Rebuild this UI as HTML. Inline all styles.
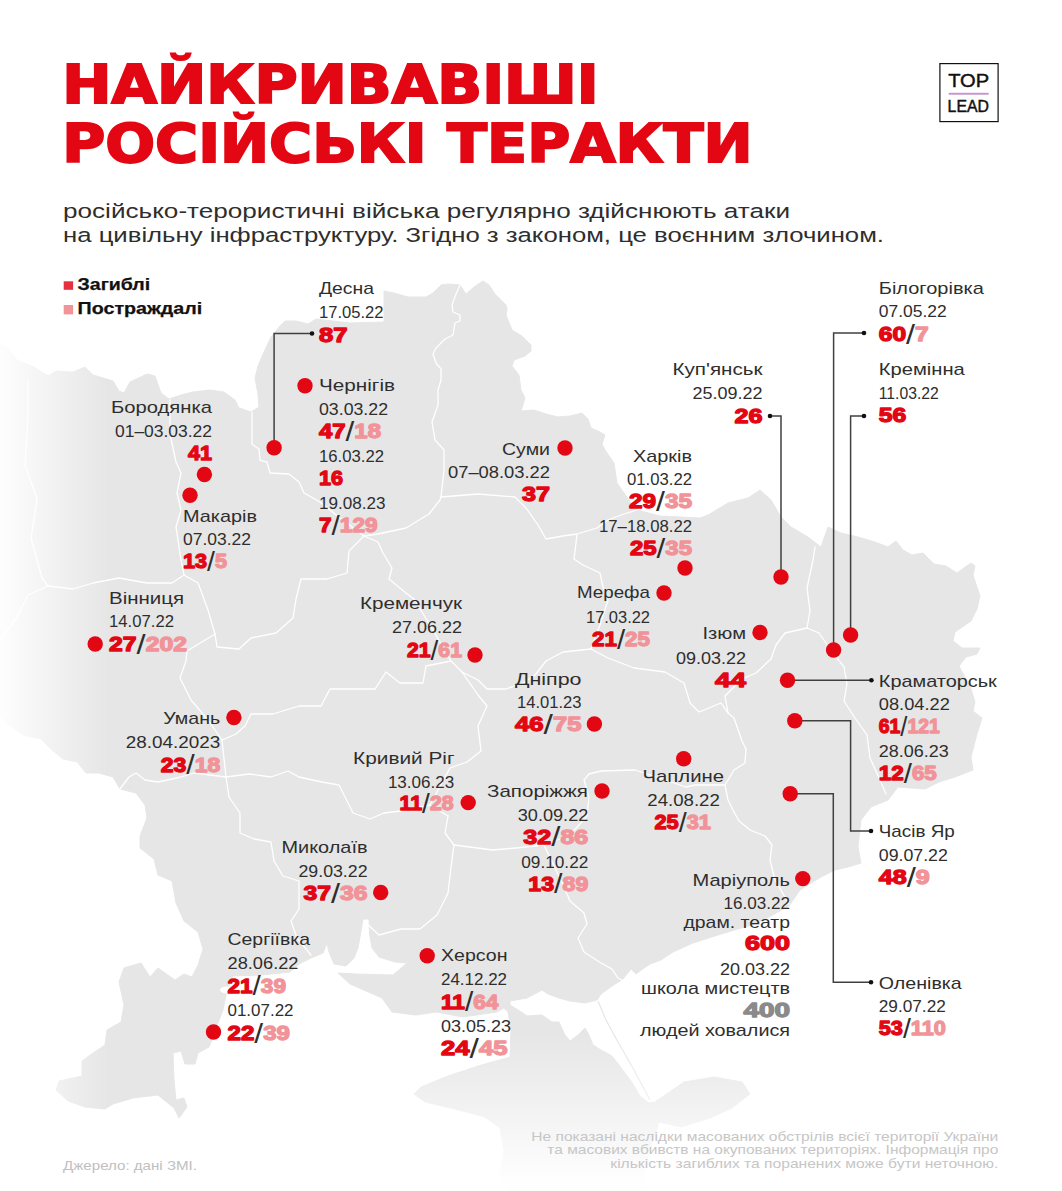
<!DOCTYPE html>
<html lang="uk"><head><meta charset="utf-8"><title>Найкривавіші російські теракти</title>
<style>
html,body{margin:0;padding:0;background:#fff;}
body{width:1062px;height:1191px;overflow:hidden;position:relative;font-family:'Liberation Sans', 'DejaVu Sans', sans-serif;}
svg{position:absolute;left:0;top:0;display:block}
text{font-family:'Liberation Sans', 'DejaVu Sans', sans-serif;}
.r{font-weight:400;}
.n{font-weight:700;}
</style></head><body>
<svg width="1062" height="1191" viewBox="0 0 1062 1191">
<defs>
<linearGradient id="gl" x1="0" y1="0" x2="108" y2="0" gradientUnits="userSpaceOnUse">
<stop offset="0" stop-color="#fff" stop-opacity="0.06"/><stop offset="1" stop-color="#fff" stop-opacity="1"/></linearGradient>
<linearGradient id="gb" x1="0" y1="1035" x2="0" y2="1180" gradientUnits="userSpaceOnUse">
<stop offset="0" stop-color="#fff" stop-opacity="1"/><stop offset="1" stop-color="#fff" stop-opacity="0.04"/></linearGradient>
<mask id="ml" maskUnits="userSpaceOnUse" x="0" y="0" width="1062" height="1191"><rect width="1062" height="1191" fill="url(#gl)"/></mask>
<mask id="mb" maskUnits="userSpaceOnUse" x="0" y="0" width="1062" height="1191"><rect width="1062" height="1191" fill="url(#gb)"/><rect width="395" height="1191" fill="#fff"/></mask>
</defs>

<g mask="url(#ml)"><g mask="url(#mb)">
<path d="M0,345 L8,348 L17,360 L34,367 L48,376 L56,371 L73,372 L85,367 L93,375 L113,381 L119,391 L124,393 L130,382 L147,374 L155,376 L161,393 L169,399 L181,395 L193,392 L210,390 L224,392 L235,400 L239,408 L251,412 L259,407 L258,394 L255,378 L258,366 L263,354 L271,337 L280,326 L285,321 L296,321 L308,324 L316,319 L350,323 L384,322 L384,291 L394,293 L408,297 L426,297 L433,293 L441,285 L448,284 L460,285 L466,294 L474,287 L483,281 L489,285 L495,294 L506,305 L507,309 L506,315 L512,330 L522,336 L531,345 L531,351 L525,356 L514,360 L512,366 L519,375 L521,390 L525,398 L521,411 L534,410 L546,414 L558,417 L570,416 L582,413 L588,419 L591,428 L600,432 L605,435 L602,444 L605,450 L614,463 L617,483 L631,503 L637,510 L660,516 L700,518 L708,515 L728,503 L748,498 L760,490 L771,500 L781,517 L791,527 L808,537 L821,547 L828,527 L841,533 L858,537 L875,542 L888,547 L896,541 L903,550 L912,555 L923,553 L934,564 L946,566 L957,573 L971,563 L975,566 L973,575 L980,596 L977,609 L971,621 L955,632 L953,641 L962,648 L980,648 L977,654 L966,657 L959,666 L971,689 L975,702 L973,711 L982,718 L977,734 L971,757 L973,770 L955,777 L939,782 L925,789 L898,787 L888,800 L871,807 L861,820 L858,847 L861,863 L848,867 L835,870 L821,877 L811,883 L800,890 L789,906 L758,923 L718,935 L693,943 L673,952 L661,960 L650,964 L644,968 L636,974 L631,969 L623,979 L612,986 L601,994 L597,1000 L585,1003 L570,1001 L559,998 L548,994 L542,990 L527,998 L510,1001 L510,1005 L523,1013 L527,1016 L542,1015 L552,1022 L559,1022 L565,1035 L570,1041 L578,1035 L585,1028 L589,1035 L593,1045 L601,1050 L612,1056 L619,1065 L631,1081 L640,1096 L649,1103 L655,1102 L684,1082 L714,1077 L742,1082 L750,1094 L732,1108 L710,1118 L681,1127 L659,1122 L650,1150 L640,1191 L508,1191 L500,1173 L504,1151 L500,1128 L485,1117 L455,1109 L425,1102 L414,1094 L421,1087 L448,1076 L478,1066 L510,1057 L511,1030 L508,1012 L504,1008 L497,1012 L463,1017 L436,1012 L416,1015 L392,1012 L382,998 L350,984 L338,973 L356,974 L393,975 L407,963 L395,962 L379,957 L372,948 L369.5,934 L369,919 L363,919 L360.5,934 L358,948 L354,958 L346,966 L334,964 L329,952 L327,943 L323,953 L311,958 L299,964 L290,972 L262,975 L233,976 L227,990 L223,1010 L216,1028 L212,1040 L209,1047 L198,1053 L195,1064 L185,1064 L181,1051 L173,1053 L174,1080 L176,1100 L184,1098 L187,1107 L179,1118 L174,1108 L158,1095 L133,1098 L113,1104 L105,1109 L85,1107 L68,1101 L56,1090 L59,1081 L82,1076 L82,1061 L93,1053 L105,1045 L107,1030 L121,1022 L124,1005 L119,982 L124,968 L141,963 L150,977 L158,968 L175,980 L184,974 L192,977 L198,965 L203,949 L198,932 L184,921 L176,903 L172,881 L158,875 L154,859 L140,848 L140,836 L147,818 L145,805 L136,793 L120,789 L113,777 L99,773 L86,773 L77,762 L63,759 L52,750 L41,739 L23,735 L9,725 L0,716 Z" fill="#e6e6e6" stroke="#e6e6e6" stroke-width="1" stroke-linejoin="round"/>
<path d="M460,285 L456,294 L452,305 L453,312 L460,315 L460,321 L455,323 L453,335 L445,339 L436,348 L433,354 L436,363 L441,369 L441,380 L438,390 L438,405 L432,422 L435,440 L444,450 L444,470 L441,497" fill="none" stroke="#fff" stroke-width="1.3" stroke-linejoin="round" stroke-linecap="round"/>
<path d="M252,412 L252,444 L259,449 L260,460 L267,462 L270,473 L289,474 L299,482 L304,493 L320,502 L340,518 L364,536" fill="none" stroke="#fff" stroke-width="1.3" stroke-linejoin="round" stroke-linecap="round"/>
<path d="M441,497 L440,500 L429,514 L406,528 L378,534 L364,536" fill="none" stroke="#fff" stroke-width="1.3" stroke-linejoin="round" stroke-linecap="round"/>
<path d="M441,497 L478,494 L515,497 L526,508 L538,525 L546,539 L563,536 L577,534 L597,528 L608,520 L621,515 L637,510" fill="none" stroke="#fff" stroke-width="1.3" stroke-linejoin="round" stroke-linecap="round"/>
<path d="M577,535 L574,559 L583,565 L600,573 L603,587 L608,600 L600,625 L591,649" fill="none" stroke="#fff" stroke-width="1.3" stroke-linejoin="round" stroke-linecap="round"/>
<path d="M591,649 L608,658 L634,668 L665,672 L684,683 L690,703 L699,712 L721,703 L728,713" fill="none" stroke="#fff" stroke-width="1.3" stroke-linejoin="round" stroke-linecap="round"/>
<path d="M591,649 L563,652 L546,661 L535,675 L523,683 L506,689 L487,689 L478,680 L462,672" fill="none" stroke="#fff" stroke-width="1.3" stroke-linejoin="round" stroke-linecap="round"/>
<path d="M815,547 L813,560 L807,588 L810,611 L807,628 L819,633" fill="none" stroke="#fff" stroke-width="1.3" stroke-linejoin="round" stroke-linecap="round"/>
<path d="M819,633 L833,653 L844,667 L847,684 L844,701 L855,718 L867,735 L870,758 L880,780 L886,794" fill="none" stroke="#fff" stroke-width="1.3" stroke-linejoin="round" stroke-linecap="round"/>
<path d="M807,628 L785,633 L776,645 L771,659 L756,673 L742,679 L725,696 L728,713" fill="none" stroke="#fff" stroke-width="1.3" stroke-linejoin="round" stroke-linecap="round"/>
<path d="M728,713 L734,718 L742,741 L746,749" fill="none" stroke="#fff" stroke-width="1.3" stroke-linejoin="round" stroke-linecap="round"/>
<path d="M725,785 L728,800 L734,812 L739,821 L750,830 L765,836 L772,845 L770,860 L775,880 L789,904" fill="none" stroke="#fff" stroke-width="1.3" stroke-linejoin="round" stroke-linecap="round"/>
<path d="M746,749 L745,763 L734,770 L725,785 L695,785 L686,787 L650,775 L635,770 L601,771 L589,774 L584,780 L589,797 L587,816 L570,835 L544,845" fill="none" stroke="#fff" stroke-width="1.3" stroke-linejoin="round" stroke-linecap="round"/>
<path d="M170,400 L170,434 L176,462 L181,473 L177,493 L181,510 L176,527 L181,560 L184,575" fill="none" stroke="#fff" stroke-width="1.3" stroke-linejoin="round" stroke-linecap="round"/>
<path d="M184,575 L172,583 L147,583 L119,578 L93,583 L73,589 L48,586 L28,595 L17,617 L0,640" fill="none" stroke="#fff" stroke-width="1.3" stroke-linejoin="round" stroke-linecap="round"/>
<path d="M28,380 L28,417 L25,465 L37,499 L31,538 L42,578 L48,586" fill="none" stroke="#fff" stroke-width="1.3" stroke-linejoin="round" stroke-linecap="round"/>
<path d="M184,575 L198,583 L208,610 L215,634 L187,651 L186,661 L180,678 L191,700 L208,720 L222,740" fill="none" stroke="#fff" stroke-width="1.3" stroke-linejoin="round" stroke-linecap="round"/>
<path d="M364,536 L349,551 L347,573 L327,579 L301,579 L296,599 L293,618 L276,633 L251,638 L239,649 L217,647 L215,634" fill="none" stroke="#fff" stroke-width="1.3" stroke-linejoin="round" stroke-linecap="round"/>
<path d="M364,536 L378,542 L383,553 L392,568 L389,579 L406,593 L414,599 L430,625 L451,661 L462,672 L478,695 L487,706 L478,726 L481,751 L467,762 L450,768 L430,805" fill="none" stroke="#fff" stroke-width="1.3" stroke-linejoin="round" stroke-linecap="round"/>
<path d="M451,661 L426,666 L423,683 L400,683 L386,672 L375,689 L349,689 L330,689 L321,706 L299,706 L273,714 L251,714 L245,726 L236,734 L222,740" fill="none" stroke="#fff" stroke-width="1.3" stroke-linejoin="round" stroke-linecap="round"/>
<path d="M222,740 L226,777 L194,773 L181,777 L158,782 L145,780 L136,773 L129,777 L120,789" fill="none" stroke="#fff" stroke-width="1.3" stroke-linejoin="round" stroke-linecap="round"/>
<path d="M226,777 L229,797 L240,813 L240,833 L254,839 L271,842 L274,861 L283,876 L299,881 L299,909 L291,921 L297,938 L311,955" fill="none" stroke="#fff" stroke-width="1.3" stroke-linejoin="round" stroke-linecap="round"/>
<path d="M226,777 L249,774 L271,777 L288,771 L299,777 L322,782 L339,785 L345,797 L353,813 L370,819 L384,813 L401,811 L430,805 L448,816" fill="none" stroke="#fff" stroke-width="1.3" stroke-linejoin="round" stroke-linecap="round"/>
<path d="M364,921 L379,935 L401,929 L420,929 L437,915 L448,893 L451,867 L454,845 L445,833 L448,816" fill="none" stroke="#fff" stroke-width="1.3" stroke-linejoin="round" stroke-linecap="round"/>
<path d="M454,845 L493,850 L516,848 L544,845" fill="none" stroke="#fff" stroke-width="1.3" stroke-linejoin="round" stroke-linecap="round"/>
<path d="M544,845 L556,870 L564,887 L570,901 L584,913 L587,924 L578,938 L584,952 L601,963 L612,969 L618,978 L628,983" fill="none" stroke="#fff" stroke-width="1.3" stroke-linejoin="round" stroke-linecap="round"/>
<path d="M598,1001 L606,1020 L618,1042 L634,1070 L650,1100" fill="none" stroke="#e6e6e6" stroke-width="1.2"/>
<ellipse cx="227" cy="990" rx="7" ry="3.5" fill="#fff"/>
</g></g>
<text x="62.2" y="103" font-size="52.6" class="n" textLength="536.5" lengthAdjust="spacingAndGlyphs" fill="#e30613" stroke="#e30613" stroke-width="2" stroke-linejoin="miter" style="font-family:'DejaVu Sans','Liberation Sans',sans-serif">НАЙКРИВАВІШІ</text>
<text x="62.2" y="161.8" font-size="52.6" class="n" textLength="690.5" lengthAdjust="spacingAndGlyphs" fill="#e30613" stroke="#e30613" stroke-width="2" stroke-linejoin="miter" style="font-family:'DejaVu Sans','Liberation Sans',sans-serif">РОСІЙСЬКІ ТЕРАКТИ</text>
<text x="63" y="217.6" font-size="20.5" class="r" textLength="727" lengthAdjust="spacingAndGlyphs" fill="#2e2e2e">російсько-терористичні війська регулярно здійснюють атаки</text>
<text x="63" y="241.6" font-size="20.5" class="r" textLength="821" lengthAdjust="spacingAndGlyphs" fill="#2e2e2e">на цивільну інфраструктуру. Згідно з законом, це воєнним злочином.</text>
<rect x="939.9" y="63.6" width="58.2" height="58" fill="#fff" stroke="#111" stroke-width="1.2"/>
<text x="948.2" y="86.7" font-size="19" class="r" textLength="41" lengthAdjust="spacingAndGlyphs" fill="#111" stroke="#111" stroke-width="0.45">TOP</text>
<rect x="948.7" y="92.8" width="40" height="1.9" fill="#c990d2"/>
<text x="947.6" y="112.1" font-size="15.6" class="r" textLength="41.3" lengthAdjust="spacingAndGlyphs" fill="#111" stroke="#111" stroke-width="0.45">LEAD</text>
<rect x="63.7" y="281.3" width="9.4" height="8.5" fill="#e8313f"/>
<rect x="63.7" y="305" width="9.4" height="9.4" fill="#f19398"/>
<text x="77.6" y="290" font-size="16.3" class="n" textLength="72.6" lengthAdjust="spacingAndGlyphs" fill="#111" stroke="#111" stroke-width="0.25">Загиблі</text>
<text x="77.6" y="314.1" font-size="16.3" class="n" textLength="124.6" lengthAdjust="spacingAndGlyphs" fill="#111" stroke="#111" stroke-width="0.25">Постраждалі</text>
<path d="M312,333.5 L274.1,333.5 L274.1,447" fill="none" stroke="#404040" stroke-width="1.5"/>
<circle cx="312" cy="333.5" r="2.3" fill="#111"/>
<path d="M770,416 L781,416 L781,577" fill="none" stroke="#404040" stroke-width="1.5"/>
<circle cx="770" cy="416" r="2.3" fill="#111"/>
<path d="M864,333 L833.6,333 L833.6,649" fill="none" stroke="#404040" stroke-width="1.5"/>
<circle cx="864" cy="333" r="2.3" fill="#111"/>
<path d="M864,416 L850.6,416 L850.6,635" fill="none" stroke="#404040" stroke-width="1.5"/>
<circle cx="864" cy="416" r="2.3" fill="#111"/>
<path d="M787.5,680.3 L871.4,680.3" fill="none" stroke="#404040" stroke-width="1.5"/>
<circle cx="871.4" cy="680.3" r="2.3" fill="#111"/>
<path d="M795,720.8 L850.6,720.8 L850.6,831 L871,831" fill="none" stroke="#404040" stroke-width="1.5"/>
<circle cx="871" cy="831" r="2.3" fill="#111"/>
<path d="M790.2,793.7 L833.3,793.7 L833.3,982.3 L871,982.3" fill="none" stroke="#404040" stroke-width="1.5"/>
<circle cx="871" cy="982.3" r="2.3" fill="#111"/>
<circle cx="274.1" cy="447.8" r="7.7" fill="#e30613"/>
<circle cx="305" cy="385.8" r="7.7" fill="#e30613"/>
<circle cx="204.4" cy="474.5" r="7.7" fill="#e30613"/>
<circle cx="190" cy="495.2" r="7.7" fill="#e30613"/>
<circle cx="95.2" cy="644" r="7.7" fill="#e30613"/>
<circle cx="233.9" cy="717.5" r="7.7" fill="#e30613"/>
<circle cx="565" cy="448" r="7.7" fill="#e30613"/>
<circle cx="685" cy="568" r="7.7" fill="#e30613"/>
<circle cx="664" cy="593" r="7.7" fill="#e30613"/>
<circle cx="475" cy="655" r="7.7" fill="#e30613"/>
<circle cx="594.4" cy="724" r="7.7" fill="#e30613"/>
<circle cx="468.2" cy="802.6" r="7.7" fill="#e30613"/>
<circle cx="602" cy="791" r="7.7" fill="#e30613"/>
<circle cx="683.7" cy="758.8" r="7.7" fill="#e30613"/>
<circle cx="380.7" cy="892.5" r="7.7" fill="#e30613"/>
<circle cx="427.2" cy="955.7" r="7.7" fill="#e30613"/>
<circle cx="213.5" cy="1032" r="7.7" fill="#e30613"/>
<circle cx="781" cy="577" r="7.7" fill="#e30613"/>
<circle cx="760" cy="632.5" r="7.7" fill="#e30613"/>
<circle cx="850.6" cy="635" r="7.7" fill="#e30613"/>
<circle cx="833.6" cy="650" r="7.7" fill="#e30613"/>
<circle cx="787.5" cy="680.3" r="7.7" fill="#e30613"/>
<circle cx="794.8" cy="720.8" r="7.7" fill="#e30613"/>
<circle cx="790.2" cy="793.7" r="7.7" fill="#e30613"/>
<circle cx="802.8" cy="878.6" r="7.7" fill="#e30613"/>
<text x="319" y="294" font-size="17" class="r" textLength="55" lengthAdjust="spacingAndGlyphs" fill="#2e2e2e">Десна</text>
<text x="319" y="317.5" font-size="17" class="r" textLength="64.5" lengthAdjust="spacingAndGlyphs" fill="#2e2e2e">17.05.22</text>
<text x="319" y="342" font-size="20.5" class="n" stroke-width="1.3" stroke-linejoin="round" textLength="28.5" lengthAdjust="spacingAndGlyphs"><tspan fill="#e30613" stroke="#e30613">87</tspan></text>
<text x="319" y="391" font-size="17" class="r" textLength="76" lengthAdjust="spacingAndGlyphs" fill="#2e2e2e">Чернігів</text>
<text x="319" y="414.5" font-size="17" class="r" textLength="69" lengthAdjust="spacingAndGlyphs" fill="#2e2e2e">03.03.22</text>
<text x="319" y="438" font-size="20.5" class="n" stroke-width="1.3" stroke-linejoin="round" textLength="62" lengthAdjust="spacingAndGlyphs"><tspan fill="#e30613" stroke="#e30613">47</tspan><tspan fill="#2e2e2e" stroke="none" font-weight="400" font-size="27" dy="2.5">/</tspan><tspan fill="#f19398" stroke="#f19398" dy="-2.5">18</tspan></text>
<text x="319" y="461.5" font-size="17" class="r" textLength="65" lengthAdjust="spacingAndGlyphs" fill="#2e2e2e">16.03.22</text>
<text x="319" y="485" font-size="20.5" class="n" stroke-width="1.3" stroke-linejoin="round" textLength="24" lengthAdjust="spacingAndGlyphs"><tspan fill="#e30613" stroke="#e30613">16</tspan></text>
<text x="319" y="508.5" font-size="17" class="r" textLength="66.5" lengthAdjust="spacingAndGlyphs" fill="#2e2e2e">19.08.23</text>
<text x="319" y="532" font-size="20.5" class="n" stroke-width="1.3" stroke-linejoin="round" textLength="58.5" lengthAdjust="spacingAndGlyphs"><tspan fill="#e30613" stroke="#e30613">7</tspan><tspan fill="#2e2e2e" stroke="none" font-weight="400" font-size="27" dy="2.5">/</tspan><tspan fill="#f19398" stroke="#f19398" dy="-2.5">129</tspan></text>
<text x="212" y="413" font-size="17" class="r" text-anchor="end" textLength="101" lengthAdjust="spacingAndGlyphs" fill="#2e2e2e">Бородянка</text>
<text x="212" y="437" font-size="17" class="r" text-anchor="end" textLength="97" lengthAdjust="spacingAndGlyphs" fill="#2e2e2e">01–03.03.22</text>
<text x="188" y="460" font-size="20.5" class="n" stroke-width="1.3" stroke-linejoin="round" textLength="24" lengthAdjust="spacingAndGlyphs"><tspan fill="#e30613" stroke="#e30613">41</tspan></text>
<text x="183" y="522" font-size="17" class="r" textLength="74" lengthAdjust="spacingAndGlyphs" fill="#2e2e2e">Макарів</text>
<text x="183" y="545" font-size="17" class="r" textLength="68" lengthAdjust="spacingAndGlyphs" fill="#2e2e2e">07.03.22</text>
<text x="183" y="568" font-size="20.5" class="n" stroke-width="1.3" stroke-linejoin="round" textLength="44" lengthAdjust="spacingAndGlyphs"><tspan fill="#e30613" stroke="#e30613">13</tspan><tspan fill="#2e2e2e" stroke="none" font-weight="400" font-size="27" dy="2.5">/</tspan><tspan fill="#f19398" stroke="#f19398" dy="-2.5">5</tspan></text>
<text x="109" y="604" font-size="17" class="r" textLength="75" lengthAdjust="spacingAndGlyphs" fill="#2e2e2e">Вінниця</text>
<text x="109" y="627" font-size="17" class="r" textLength="65" lengthAdjust="spacingAndGlyphs" fill="#2e2e2e">14.07.22</text>
<text x="109" y="651" font-size="20.5" class="n" stroke-width="1.3" stroke-linejoin="round" textLength="78" lengthAdjust="spacingAndGlyphs"><tspan fill="#e30613" stroke="#e30613">27</tspan><tspan fill="#2e2e2e" stroke="none" font-weight="400" font-size="27" dy="2.5">/</tspan><tspan fill="#f19398" stroke="#f19398" dy="-2.5">202</tspan></text>
<text x="220.3" y="724.4" font-size="17" class="r" text-anchor="end" textLength="57" lengthAdjust="spacingAndGlyphs" fill="#2e2e2e">Умань</text>
<text x="220.3" y="748" font-size="17" class="r" text-anchor="end" textLength="94.5" lengthAdjust="spacingAndGlyphs" fill="#2e2e2e">28.04.2023</text>
<text x="160.8" y="771.6" font-size="20.5" class="n" stroke-width="1.3" stroke-linejoin="round" textLength="59.5" lengthAdjust="spacingAndGlyphs"><tspan fill="#e30613" stroke="#e30613">23</tspan><tspan fill="#2e2e2e" stroke="none" font-weight="400" font-size="27" dy="2.5">/</tspan><tspan fill="#f19398" stroke="#f19398" dy="-2.5">18</tspan></text>
<text x="367.5" y="852.5" font-size="17" class="r" text-anchor="end" textLength="86" lengthAdjust="spacingAndGlyphs" fill="#2e2e2e">Миколаїв</text>
<text x="367.5" y="876.5" font-size="17" class="r" text-anchor="end" textLength="69" lengthAdjust="spacingAndGlyphs" fill="#2e2e2e">29.03.22</text>
<text x="303.5" y="900" font-size="20.5" class="n" stroke-width="1.3" stroke-linejoin="round" textLength="64" lengthAdjust="spacingAndGlyphs"><tspan fill="#e30613" stroke="#e30613">37</tspan><tspan fill="#2e2e2e" stroke="none" font-weight="400" font-size="27" dy="2.5">/</tspan><tspan fill="#f19398" stroke="#f19398" dy="-2.5">36</tspan></text>
<text x="227.5" y="945" font-size="17" class="r" textLength="82.5" lengthAdjust="spacingAndGlyphs" fill="#2e2e2e">Сергіївка</text>
<text x="227.5" y="969" font-size="17" class="r" textLength="71" lengthAdjust="spacingAndGlyphs" fill="#2e2e2e">28.06.22</text>
<text x="227.5" y="992.5" font-size="20.5" class="n" stroke-width="1.3" stroke-linejoin="round" textLength="58.5" lengthAdjust="spacingAndGlyphs"><tspan fill="#e30613" stroke="#e30613">21</tspan><tspan fill="#2e2e2e" stroke="none" font-weight="400" font-size="27" dy="2.5">/</tspan><tspan fill="#f19398" stroke="#f19398" dy="-2.5">39</tspan></text>
<text x="227.5" y="1016" font-size="17" class="r" textLength="66" lengthAdjust="spacingAndGlyphs" fill="#2e2e2e">01.07.22</text>
<text x="227.5" y="1040" font-size="20.5" class="n" stroke-width="1.3" stroke-linejoin="round" textLength="62.5" lengthAdjust="spacingAndGlyphs"><tspan fill="#e30613" stroke="#e30613">22</tspan><tspan fill="#2e2e2e" stroke="none" font-weight="400" font-size="27" dy="2.5">/</tspan><tspan fill="#f19398" stroke="#f19398" dy="-2.5">39</tspan></text>
<text x="441" y="960.5" font-size="17" class="r" textLength="66.5" lengthAdjust="spacingAndGlyphs" fill="#2e2e2e">Херсон</text>
<text x="441" y="985" font-size="17" class="r" textLength="66" lengthAdjust="spacingAndGlyphs" fill="#2e2e2e">24.12.22</text>
<text x="441" y="1008.5" font-size="20.5" class="n" stroke-width="1.3" stroke-linejoin="round" textLength="57.5" lengthAdjust="spacingAndGlyphs"><tspan fill="#e30613" stroke="#e30613">11</tspan><tspan fill="#2e2e2e" stroke="none" font-weight="400" font-size="27" dy="2.5">/</tspan><tspan fill="#f19398" stroke="#f19398" dy="-2.5">64</tspan></text>
<text x="441" y="1031.5" font-size="17" class="r" textLength="70" lengthAdjust="spacingAndGlyphs" fill="#2e2e2e">03.05.23</text>
<text x="441" y="1055" font-size="20.5" class="n" stroke-width="1.3" stroke-linejoin="round" textLength="66.5" lengthAdjust="spacingAndGlyphs"><tspan fill="#e30613" stroke="#e30613">24</tspan><tspan fill="#2e2e2e" stroke="none" font-weight="400" font-size="27" dy="2.5">/</tspan><tspan fill="#f19398" stroke="#f19398" dy="-2.5">45</tspan></text>
<text x="462" y="609.3" font-size="17" class="r" text-anchor="end" textLength="102" lengthAdjust="spacingAndGlyphs" fill="#2e2e2e">Кременчук</text>
<text x="462" y="633" font-size="17" class="r" text-anchor="end" textLength="70" lengthAdjust="spacingAndGlyphs" fill="#2e2e2e">27.06.22</text>
<text x="407" y="657" font-size="20.5" class="n" stroke-width="1.3" stroke-linejoin="round" textLength="55" lengthAdjust="spacingAndGlyphs"><tspan fill="#e30613" stroke="#e30613">21</tspan><tspan fill="#2e2e2e" stroke="none" font-weight="400" font-size="27" dy="2.5">/</tspan><tspan fill="#f19398" stroke="#f19398" dy="-2.5">61</tspan></text>
<text x="550" y="455" font-size="17" class="r" text-anchor="end" textLength="48" lengthAdjust="spacingAndGlyphs" fill="#2e2e2e">Суми</text>
<text x="550" y="478" font-size="17" class="r" text-anchor="end" textLength="102" lengthAdjust="spacingAndGlyphs" fill="#2e2e2e">07–08.03.22</text>
<text x="522" y="501" font-size="20.5" class="n" stroke-width="1.3" stroke-linejoin="round" textLength="28" lengthAdjust="spacingAndGlyphs"><tspan fill="#e30613" stroke="#e30613">37</tspan></text>
<text x="692" y="462" font-size="17" class="r" text-anchor="end" textLength="59" lengthAdjust="spacingAndGlyphs" fill="#2e2e2e">Харків</text>
<text x="692" y="485" font-size="17" class="r" text-anchor="end" textLength="65" lengthAdjust="spacingAndGlyphs" fill="#2e2e2e">01.03.22</text>
<text x="629" y="508" font-size="20.5" class="n" stroke-width="1.3" stroke-linejoin="round" textLength="63" lengthAdjust="spacingAndGlyphs"><tspan fill="#e30613" stroke="#e30613">29</tspan><tspan fill="#2e2e2e" stroke="none" font-weight="400" font-size="27" dy="2.5">/</tspan><tspan fill="#f19398" stroke="#f19398" dy="-2.5">35</tspan></text>
<text x="692" y="532" font-size="17" class="r" text-anchor="end" textLength="93" lengthAdjust="spacingAndGlyphs" fill="#2e2e2e">17–18.08.22</text>
<text x="630" y="555" font-size="20.5" class="n" stroke-width="1.3" stroke-linejoin="round" textLength="62" lengthAdjust="spacingAndGlyphs"><tspan fill="#e30613" stroke="#e30613">25</tspan><tspan fill="#2e2e2e" stroke="none" font-weight="400" font-size="27" dy="2.5">/</tspan><tspan fill="#f19398" stroke="#f19398" dy="-2.5">35</tspan></text>
<text x="650" y="598" font-size="17" class="r" text-anchor="end" textLength="73" lengthAdjust="spacingAndGlyphs" fill="#2e2e2e">Мерефа</text>
<text x="650" y="622.5" font-size="17" class="r" text-anchor="end" textLength="64" lengthAdjust="spacingAndGlyphs" fill="#2e2e2e">17.03.22</text>
<text x="592" y="646" font-size="20.5" class="n" stroke-width="1.3" stroke-linejoin="round" textLength="58" lengthAdjust="spacingAndGlyphs"><tspan fill="#e30613" stroke="#e30613">21</tspan><tspan fill="#2e2e2e" stroke="none" font-weight="400" font-size="27" dy="2.5">/</tspan><tspan fill="#f19398" stroke="#f19398" dy="-2.5">25</tspan></text>
<text x="581.5" y="685" font-size="17" class="r" text-anchor="end" textLength="66.5" lengthAdjust="spacingAndGlyphs" fill="#2e2e2e">Дніпро</text>
<text x="581.5" y="708" font-size="17" class="r" text-anchor="end" textLength="64.5" lengthAdjust="spacingAndGlyphs" fill="#2e2e2e">14.01.23</text>
<text x="515.0" y="731" font-size="20.5" class="n" stroke-width="1.3" stroke-linejoin="round" textLength="66.5" lengthAdjust="spacingAndGlyphs"><tspan fill="#e30613" stroke="#e30613">46</tspan><tspan fill="#2e2e2e" stroke="none" font-weight="400" font-size="27" dy="2.5">/</tspan><tspan fill="#f19398" stroke="#f19398" dy="-2.5">75</tspan></text>
<text x="454.6" y="763.9" font-size="17" class="r" text-anchor="end" textLength="101.5" lengthAdjust="spacingAndGlyphs" fill="#2e2e2e">Кривий Ріг</text>
<text x="454.2" y="787.5" font-size="17" class="r" text-anchor="end" textLength="66.3" lengthAdjust="spacingAndGlyphs" fill="#2e2e2e">13.06.23</text>
<text x="399.6" y="810.3" font-size="20.5" class="n" stroke-width="1.3" stroke-linejoin="round" textLength="54" lengthAdjust="spacingAndGlyphs"><tspan fill="#e30613" stroke="#e30613">11</tspan><tspan fill="#2e2e2e" stroke="none" font-weight="400" font-size="27" dy="2.5">/</tspan><tspan fill="#f19398" stroke="#f19398" dy="-2.5">28</tspan></text>
<text x="588" y="797.2" font-size="17" class="r" text-anchor="end" textLength="101" lengthAdjust="spacingAndGlyphs" fill="#2e2e2e">Запоріжжя</text>
<text x="588.3" y="821" font-size="17" class="r" text-anchor="end" textLength="70.5" lengthAdjust="spacingAndGlyphs" fill="#2e2e2e">30.09.22</text>
<text x="523.3" y="843.7" font-size="20.5" class="n" stroke-width="1.3" stroke-linejoin="round" textLength="65" lengthAdjust="spacingAndGlyphs"><tspan fill="#e30613" stroke="#e30613">32</tspan><tspan fill="#2e2e2e" stroke="none" font-weight="400" font-size="27" dy="2.5">/</tspan><tspan fill="#f19398" stroke="#f19398" dy="-2.5">86</tspan></text>
<text x="588.3" y="867.7" font-size="17" class="r" text-anchor="end" textLength="67" lengthAdjust="spacingAndGlyphs" fill="#2e2e2e">09.10.22</text>
<text x="528.3" y="890.8" font-size="20.5" class="n" stroke-width="1.3" stroke-linejoin="round" textLength="60" lengthAdjust="spacingAndGlyphs"><tspan fill="#e30613" stroke="#e30613">13</tspan><tspan fill="#2e2e2e" stroke="none" font-weight="400" font-size="27" dy="2.5">/</tspan><tspan fill="#f19398" stroke="#f19398" dy="-2.5">89</tspan></text>
<text x="724" y="781.5" font-size="17" class="r" text-anchor="end" textLength="81.5" lengthAdjust="spacingAndGlyphs" fill="#2e2e2e">Чаплине</text>
<text x="719.8" y="805.5" font-size="17" class="r" text-anchor="end" textLength="72.5" lengthAdjust="spacingAndGlyphs" fill="#2e2e2e">24.08.22</text>
<text x="654.5" y="829" font-size="20.5" class="n" stroke-width="1.3" stroke-linejoin="round" textLength="56.5" lengthAdjust="spacingAndGlyphs"><tspan fill="#e30613" stroke="#e30613">25</tspan><tspan fill="#2e2e2e" stroke="none" font-weight="400" font-size="27" dy="2.5">/</tspan><tspan fill="#f19398" stroke="#f19398" dy="-2.5">31</tspan></text>
<text x="746" y="639" font-size="17" class="r" text-anchor="end" textLength="43.5" lengthAdjust="spacingAndGlyphs" fill="#2e2e2e">Ізюм</text>
<text x="746" y="663.5" font-size="17" class="r" text-anchor="end" textLength="70" lengthAdjust="spacingAndGlyphs" fill="#2e2e2e">09.03.22</text>
<text x="715" y="686.5" font-size="20.5" class="n" stroke-width="1.3" stroke-linejoin="round" textLength="31" lengthAdjust="spacingAndGlyphs"><tspan fill="#e30613" stroke="#e30613">44</tspan></text>
<text x="762.5" y="375" font-size="17" class="r" text-anchor="end" textLength="90" lengthAdjust="spacingAndGlyphs" fill="#2e2e2e">Куп'янськ</text>
<text x="762.5" y="399" font-size="17" class="r" text-anchor="end" textLength="70" lengthAdjust="spacingAndGlyphs" fill="#2e2e2e">25.09.22</text>
<text x="734.5" y="422.5" font-size="20.5" class="n" stroke-width="1.3" stroke-linejoin="round" textLength="28" lengthAdjust="spacingAndGlyphs"><tspan fill="#e30613" stroke="#e30613">26</tspan></text>
<text x="878.8" y="294" font-size="17" class="r" textLength="105" lengthAdjust="spacingAndGlyphs" fill="#2e2e2e">Білогорівка</text>
<text x="878.8" y="317" font-size="17" class="r" textLength="68" lengthAdjust="spacingAndGlyphs" fill="#2e2e2e">07.05.22</text>
<text x="878.8" y="341" font-size="20.5" class="n" stroke-width="1.3" stroke-linejoin="round" textLength="50" lengthAdjust="spacingAndGlyphs"><tspan fill="#e30613" stroke="#e30613">60</tspan><tspan fill="#2e2e2e" stroke="none" font-weight="400" font-size="27" dy="2.5">/</tspan><tspan fill="#f19398" stroke="#f19398" dy="-2.5">7</tspan></text>
<text x="878.8" y="375" font-size="17" class="r" textLength="86" lengthAdjust="spacingAndGlyphs" fill="#2e2e2e">Кремінна</text>
<text x="878.8" y="399" font-size="17" class="r" textLength="60" lengthAdjust="spacingAndGlyphs" fill="#2e2e2e">11.03.22</text>
<text x="878.8" y="422" font-size="20.5" class="n" stroke-width="1.3" stroke-linejoin="round" textLength="27.5" lengthAdjust="spacingAndGlyphs"><tspan fill="#e30613" stroke="#e30613">56</tspan></text>
<text x="878.8" y="686.5" font-size="17" class="r" textLength="118" lengthAdjust="spacingAndGlyphs" fill="#2e2e2e">Краматорськ</text>
<text x="878.8" y="710" font-size="17" class="r" textLength="71" lengthAdjust="spacingAndGlyphs" fill="#2e2e2e">08.04.22</text>
<text x="878.8" y="733" font-size="20.5" class="n" stroke-width="1.3" stroke-linejoin="round" textLength="61" lengthAdjust="spacingAndGlyphs"><tspan fill="#e30613" stroke="#e30613">61</tspan><tspan fill="#2e2e2e" stroke="none" font-weight="400" font-size="27" dy="2.5">/</tspan><tspan fill="#f19398" stroke="#f19398" dy="-2.5">121</tspan></text>
<text x="878.8" y="756.5" font-size="17" class="r" textLength="70" lengthAdjust="spacingAndGlyphs" fill="#2e2e2e">28.06.23</text>
<text x="878.8" y="780" font-size="20.5" class="n" stroke-width="1.3" stroke-linejoin="round" textLength="58" lengthAdjust="spacingAndGlyphs"><tspan fill="#e30613" stroke="#e30613">12</tspan><tspan fill="#2e2e2e" stroke="none" font-weight="400" font-size="27" dy="2.5">/</tspan><tspan fill="#f19398" stroke="#f19398" dy="-2.5">65</tspan></text>
<text x="878.8" y="837" font-size="17" class="r" textLength="76" lengthAdjust="spacingAndGlyphs" fill="#2e2e2e">Часів Яр</text>
<text x="878.8" y="861" font-size="17" class="r" textLength="69" lengthAdjust="spacingAndGlyphs" fill="#2e2e2e">09.07.22</text>
<text x="878.8" y="884" font-size="20.5" class="n" stroke-width="1.3" stroke-linejoin="round" textLength="51" lengthAdjust="spacingAndGlyphs"><tspan fill="#e30613" stroke="#e30613">48</tspan><tspan fill="#2e2e2e" stroke="none" font-weight="400" font-size="27" dy="2.5">/</tspan><tspan fill="#f19398" stroke="#f19398" dy="-2.5">9</tspan></text>
<text x="878.8" y="989" font-size="17" class="r" textLength="83" lengthAdjust="spacingAndGlyphs" fill="#2e2e2e">Оленівка</text>
<text x="878.8" y="1012" font-size="17" class="r" textLength="67" lengthAdjust="spacingAndGlyphs" fill="#2e2e2e">29.07.22</text>
<text x="878.8" y="1035" font-size="20.5" class="n" stroke-width="1.3" stroke-linejoin="round" textLength="67" lengthAdjust="spacingAndGlyphs"><tspan fill="#e30613" stroke="#e30613">53</tspan><tspan fill="#2e2e2e" stroke="none" font-weight="400" font-size="27" dy="2.5">/</tspan><tspan fill="#f19398" stroke="#f19398" dy="-2.5">110</tspan></text>
<text x="790" y="886" font-size="17" class="r" text-anchor="end" textLength="97.5" lengthAdjust="spacingAndGlyphs" fill="#2e2e2e">Маріуполь</text>
<text x="790" y="909" font-size="17" class="r" text-anchor="end" textLength="66.5" lengthAdjust="spacingAndGlyphs" fill="#2e2e2e">16.03.22</text>
<text x="790" y="927.5" font-size="17" class="r" text-anchor="end" textLength="106.5" lengthAdjust="spacingAndGlyphs" fill="#2e2e2e">драм. театр</text>
<text x="745" y="950" font-size="20.5" class="n" stroke-width="1.3" stroke-linejoin="round" textLength="45" lengthAdjust="spacingAndGlyphs"><tspan fill="#e30613" stroke="#e30613">600</tspan></text>
<text x="790" y="975" font-size="17" class="r" text-anchor="end" textLength="70" lengthAdjust="spacingAndGlyphs" fill="#2e2e2e">20.03.22</text>
<text x="790" y="993.5" font-size="17" class="r" text-anchor="end" textLength="149" lengthAdjust="spacingAndGlyphs" fill="#2e2e2e">школа мистецтв</text>
<text x="743.5" y="1016.5" font-size="20.5" class="n" stroke-width="1.3" stroke-linejoin="round" textLength="46.5" lengthAdjust="spacingAndGlyphs"><tspan fill="#8a8a8a" stroke="#8a8a8a">400</tspan></text>
<text x="790" y="1036" font-size="17" class="r" text-anchor="end" textLength="150" lengthAdjust="spacingAndGlyphs" fill="#2e2e2e">людей ховалися</text>
<text x="63" y="1169.8" font-size="13.4" class="r" textLength="134" lengthAdjust="spacingAndGlyphs" fill="#c0c0c0">Джерело: дані ЗМІ.</text>
<text x="998.3" y="1140.8" font-size="13.4" class="r" text-anchor="end" textLength="467" lengthAdjust="spacingAndGlyphs" fill="#c6c6c6">Не показані наслідки масованих обстрілів всієї території України</text>
<text x="998.3" y="1154.4" font-size="13.4" class="r" text-anchor="end" textLength="451" lengthAdjust="spacingAndGlyphs" fill="#c6c6c6">та масових вбивств на окупованих територіях. Інформація про</text>
<text x="998.3" y="1168" font-size="13.4" class="r" text-anchor="end" textLength="388" lengthAdjust="spacingAndGlyphs" fill="#c6c6c6">кількість загиблих та поранених може бути неточною.</text>
</svg></body></html>
